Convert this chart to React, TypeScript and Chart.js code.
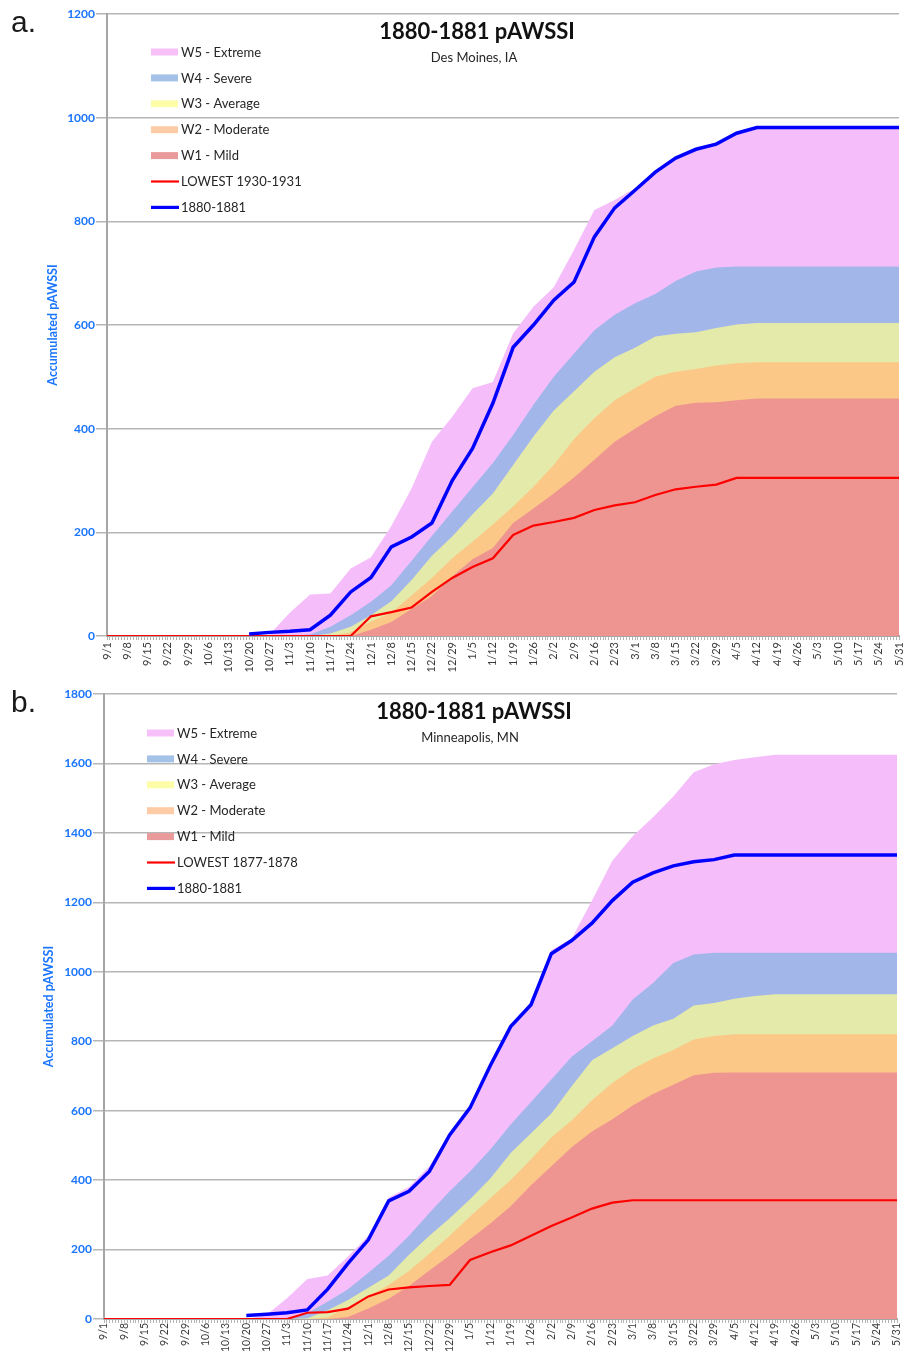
import React, { useEffect, useRef } from 'react';
import { Chart, registerables } from 'chart.js';

Chart.register(...registerables);

// ---------- shared categories (one value per week, 9/1 .. 5/31) ----------
const weekLabels = [
  '9/1', '9/8', '9/15', '9/22', '9/29', '10/6', '10/13', '10/20', '10/27', '11/3',
  '11/10', '11/17', '11/24', '12/1', '12/8', '12/15', '12/22', '12/29', '1/5', '1/12',
  '1/19', '1/26', '2/2', '2/9', '2/16', '2/23', '3/1', '3/8', '3/15', '3/22',
  '3/29', '4/5', '4/12', '4/19', '4/26', '5/3', '5/10', '5/17', '5/24', '5/31',
];
const legendNames = ['W5 - Extreme', 'W4 - Severe', 'W3 - Average', 'W2 - Moderate', 'W1 - Mild'];

// ---------- panel a: Des Moines, IA ----------
const aW5 = [0, 0, 0, 0, 0, 0, 0, 0, 3, 45, 80, 82, 130, 152, 212, 285, 375, 423, 478, 490, 584, 635, 673, 745, 822, 841, 864, 897, 925, 941, 952, 972, 981, 981, 981, 981, 981, 981, 981, 981];
const aW4 = [0, 0, 0, 0, 0, 0, 0, 0, 0, 0, 3, 18, 40, 66, 98, 145, 193, 240, 287, 334, 388, 446, 500, 545, 590, 620, 642, 660, 685, 703, 711, 713, 713, 713, 713, 713, 713, 713, 713, 713];
const aW3 = [0, 0, 0, 0, 0, 0, 0, 0, 0, 0, 0, 5, 18, 40, 67, 108, 155, 192, 235, 275, 330, 385, 435, 472, 510, 538, 556, 578, 583, 586, 594, 601, 604, 604, 604, 604, 604, 604, 604, 604];
const aW2 = [0, 0, 0, 0, 0, 0, 0, 0, 0, 0, 0, 0, 7, 28, 45, 78, 112, 150, 182, 215, 250, 288, 330, 380, 420, 455, 478, 500, 510, 515, 522, 526, 528, 528, 528, 528, 528, 528, 528, 528];
const aW1 = [0, 0, 0, 0, 0, 0, 0, 0, 0, 0, 0, 0, 0, 12, 27, 52, 77, 115, 148, 170, 218, 246, 275, 306, 340, 375, 400, 424, 444, 450, 451, 455, 458, 458, 458, 458, 458, 458, 458, 458];
const aLowest = [0, 0, 0, 0, 0, 0, 0, 0, 0, 0, 0, 0, 0, 38, 46, 55, 85, 112, 133, 150, 195, 213, 220, 228, 243, 252, 258, 272, 283, 288, 292, 305, 305, 305, 305, 305, 305, 305, 305, 305];
const aSeason = [null, null, null, null, null, null, null, 4, 7, 9, 12, 40, 85, 113, 172, 191, 218, 300, 362, 449, 557, 600, 648, 683, 770, 826, 860, 895, 922, 939, 949, 970, 981, 981, 981, 981, 981, 981, 981, 981];

// ---------- panel b: Minneapolis, MN ----------
const bW5 = [0, 0, 0, 0, 0, 0, 0, 0, 12, 60, 115, 125, 180, 240, 350, 380, 440, 535, 612, 735, 848, 912, 1063, 1095, 1205, 1320, 1390, 1445, 1505, 1575, 1598, 1610, 1618, 1625, 1625, 1625, 1625, 1625, 1625, 1625];
const bW4 = [0, 0, 0, 0, 0, 0, 0, 0, 0, 3, 17, 50, 86, 133, 182, 240, 305, 368, 425, 488, 560, 625, 690, 755, 800, 845, 920, 968, 1025, 1050, 1055, 1055, 1055, 1055, 1055, 1055, 1055, 1055, 1055, 1055];
const bW3 = [0, 0, 0, 0, 0, 0, 0, 0, 0, 0, 2, 25, 55, 90, 125, 185, 240, 290, 345, 405, 478, 535, 592, 670, 745, 780, 815, 845, 865, 903, 910, 922, 930, 935, 935, 935, 935, 935, 935, 935];
const bW2 = [0, 0, 0, 0, 0, 0, 0, 0, 0, 0, 0, 5, 35, 65, 98, 138, 188, 240, 295, 348, 400, 460, 523, 572, 630, 680, 720, 750, 775, 805, 815, 820, 820, 820, 820, 820, 820, 820, 820, 820];
const bW1 = [0, 0, 0, 0, 0, 0, 0, 0, 0, 0, 0, 0, 6, 30, 58, 95, 140, 183, 230, 275, 325, 385, 440, 495, 540, 575, 615, 648, 675, 702, 709, 710, 710, 710, 710, 710, 710, 710, 710, 710];
const bLowest = [0, 0, 0, 0, 0, 0, 0, 0, 0, 0, 18, 20, 30, 65, 85, 91, 95, 98, 170, 192, 212, 240, 268, 292, 318, 335, 342, 342, 342, 342, 342, 342, 342, 342, 342, 342, 342, 342, 342, 342];
const bSeason = [null, null, null, null, null, null, null, 10, 14, 18, 26, 86, 160, 228, 340, 368, 425, 530, 608, 730, 842, 905, 1052, 1090, 1140, 1205, 1258, 1285, 1305, 1317, 1323, 1336, 1336, 1336, 1336, 1336, 1336, 1336, 1336, 1336];

const FONT = 'Lato, "Open Sans", "DejaVu Sans", sans-serif';
const fillColors = ['#f5befb', '#a2b6ea', '#e4eaaa', '#fbc887', '#ee9591'];
const swatchColors = ['#f7c0f9', '#a4c2e8', '#fdfda8', '#fdcca6', '#e99a9a'];
const BLUE = '#0000ff';
const RED = '#ff0000';
const AXIS_BLUE = '#1a75ff';

type PanelCfg = {
  letter: string;
  height: number;
  place: string;
  lowestName: string;
  yMax: number;
  left: number;
  right: number;
  top: number;
  bottom: number;
  titleX: number;
  subX: number;
  legendX: number;
  legendY0: number;
  axisTitleX: number;
  xFont: number;
  xPad: number;
  w: number[][];
  lowest: number[];
  season: (number | null)[];
};

const panels: PanelCfg[] = [
  {
    letter: 'a.', height: 680, place: 'Des Moines, IA', lowestName: 'LOWEST 1930-1931', yMax: 1200,
    left: 107, right: 899, top: 14, bottom: 636, titleX: 477, subX: 474, legendX: 151, legendY0: 52,
    axisTitleX: 53, xFont: 11, xPad: 2,
    w: [aW5, aW4, aW3, aW2, aW1], lowest: aLowest, season: aSeason,
  },
  {
    letter: 'b.', height: 671, place: 'Minneapolis, MN', lowestName: 'LOWEST 1877-1878', yMax: 1800,
    left: 104, right: 897, top: 14, bottom: 639, titleX: 474, subX: 470, legendX: 147, legendY0: 53,
    axisTitleX: 49, xFont: 10.5, xPad: 0,
    w: [bW5, bW4, bW3, bW2, bW1], lowest: bLowest, season: bSeason,
  },
];

const pts = (arr: (number | null)[]) => arr.map((v, i) => ({ x: i * 7, y: v }));

function Panel({ cfg }: { cfg: PanelCfg }) {
  const ref = useRef<HTMLCanvasElement>(null);
  useEffect(() => {
    const W = 916;
    const overlay = {
      id: 'overlay',
      beforeDatasetsDraw(chart: any) {
        const ctx = chart.ctx;
        ctx.save();
        const rowH = 25.9;
        ctx.font = `13px ${FONT}`;
        ctx.textBaseline = 'middle';
        const names = [...legendNames, cfg.lowestName, '1880-1881'];
        names.forEach((name, i) => {
          const y = cfg.legendY0 + i * rowH;
          if (i < 5) {
            ctx.fillStyle = swatchColors[i];
            ctx.fillRect(cfg.legendX, y - 3.5, 27, 7);
          } else {
            ctx.strokeStyle = i === 5 ? RED : BLUE;
            ctx.lineWidth = i === 5 ? 2.2 : 3.2;
            ctx.beginPath();
            ctx.moveTo(cfg.legendX, y);
            ctx.lineTo(cfg.legendX + 28, y);
            ctx.stroke();
          }
          ctx.fillStyle = '#262626';
          ctx.textAlign = 'left';
          ctx.fillText(name, cfg.legendX + 30, y + 0.5);
        });
        ctx.restore();
      },
      afterDraw(chart: any) {
        const ctx = chart.ctx;
        ctx.save();
        ctx.fillStyle = '#111';
        ctx.textAlign = 'center';
        ctx.textBaseline = 'middle';
        ctx.font = `bold 22px ${FONT}`;
        ctx.fillText('1880-1881 pAWSSI', cfg.titleX, 32);
        ctx.font = `13px ${FONT}`;
        ctx.fillStyle = '#262626';
        ctx.fillText(cfg.place, cfg.subX, 58);
        // panel letter
        ctx.font = `30px "Liberation Sans", Arial, sans-serif`;
        ctx.fillStyle = '#1a1a1a';
        ctx.textAlign = 'left';
        ctx.fillText(cfg.letter, 11, 24);
        // y axis title
        ctx.translate(cfg.axisTitleX, (cfg.top + cfg.bottom) / 2);
        ctx.rotate(-Math.PI / 2);
        ctx.textAlign = 'center';
        ctx.font = `bold 12.5px ${FONT}`;
        ctx.fillStyle = AXIS_BLUE;
        ctx.fillText('Accumulated pAWSSI', 0, 0);
        ctx.restore();
      },
    };

    const fillDs = cfg.w.map((arr, i) => ({
      label: legendNames[i],
      data: pts(arr),
      fill: 'origin',
      backgroundColor: fillColors[i],
      borderColor: fillColors[i],
      borderWidth: 0,
      pointRadius: 0,
      tension: 0,
    }));
    // index 0 is drawn last (on top)
    const datasets: any[] = [
      { label: '1880-1881', data: pts(cfg.season), borderColor: BLUE, borderWidth: 3.5, pointRadius: 0, fill: false, tension: 0 },
      { label: cfg.lowestName, data: pts(cfg.lowest), borderColor: RED, borderWidth: 2.2, pointRadius: 0, fill: false, tension: 0 },
      ...fillDs.slice().reverse(),
    ];

    const chart = new Chart(ref.current!, {
      type: 'line',
      data: { datasets },
      plugins: [overlay],
      options: {
        responsive: false,
        animation: false,
        events: [],
        layout: { padding: { left: 0, right: W - cfg.right, top: cfg.top, bottom: 0 } },
        plugins: { legend: { display: false }, tooltip: { enabled: false }, title: { display: false } },
        scales: {
          x: {
            type: 'linear',
            min: 0,
            max: 273,
            ticks: {
              stepSize: 1,
              autoSkip: false,
              minRotation: 90,
              maxRotation: 90,
              padding: cfg.xPad,
              color: '#3a3a3a',
              font: { family: FONT, size: cfg.xFont },
              callback: (v: any) => {
                const d = Math.round(Number(v));
                return d % 7 === 0 ? weekLabels[d / 7] : '';
              },
            },
            grid: { drawOnChartArea: false, drawTicks: true, tickLength: 4, color: '#b5b5b5', lineWidth: 1 },
            border: { display: true, color: '#a6a6a6', width: 2 },
            afterFit: (s: any) => { s.height = cfg.height - cfg.bottom; },
          },
          y: {
            min: 0,
            max: cfg.yMax,
            z: 1,
            ticks: {
              stepSize: 200,
              padding: 1,
              color: AXIS_BLUE,
              font: { family: FONT, size: 12, weight: 'bold' },
              callback: (v: any) => String(Math.round(Number(v))),
            },
            grid: { color: 'rgba(110,110,110,0.5)', lineWidth: 1.5, tickLength: 11, drawTicks: true },
            border: { display: true, color: '#a6a6a6', width: 2 },
            afterFit: (s: any) => { s.width = cfg.left; },
          },
        },
      } as any,
    });
    return () => chart.destroy();
  }, [cfg]);
  return <canvas ref={ref} width={916} height={cfg.height} style={{ display: 'block' }} />;
}

export default function App() {
  useEffect(() => {
    document.body.style.margin = '0';
    document.body.style.overflow = 'hidden';
    document.body.style.background = '#ffffff';
  }, []);
  return (
    <div style={{ width: 916, background: '#fff' }}>
      {panels.map((p) => (
        <Panel key={p.letter} cfg={p} />
      ))}
    </div>
  );
}
